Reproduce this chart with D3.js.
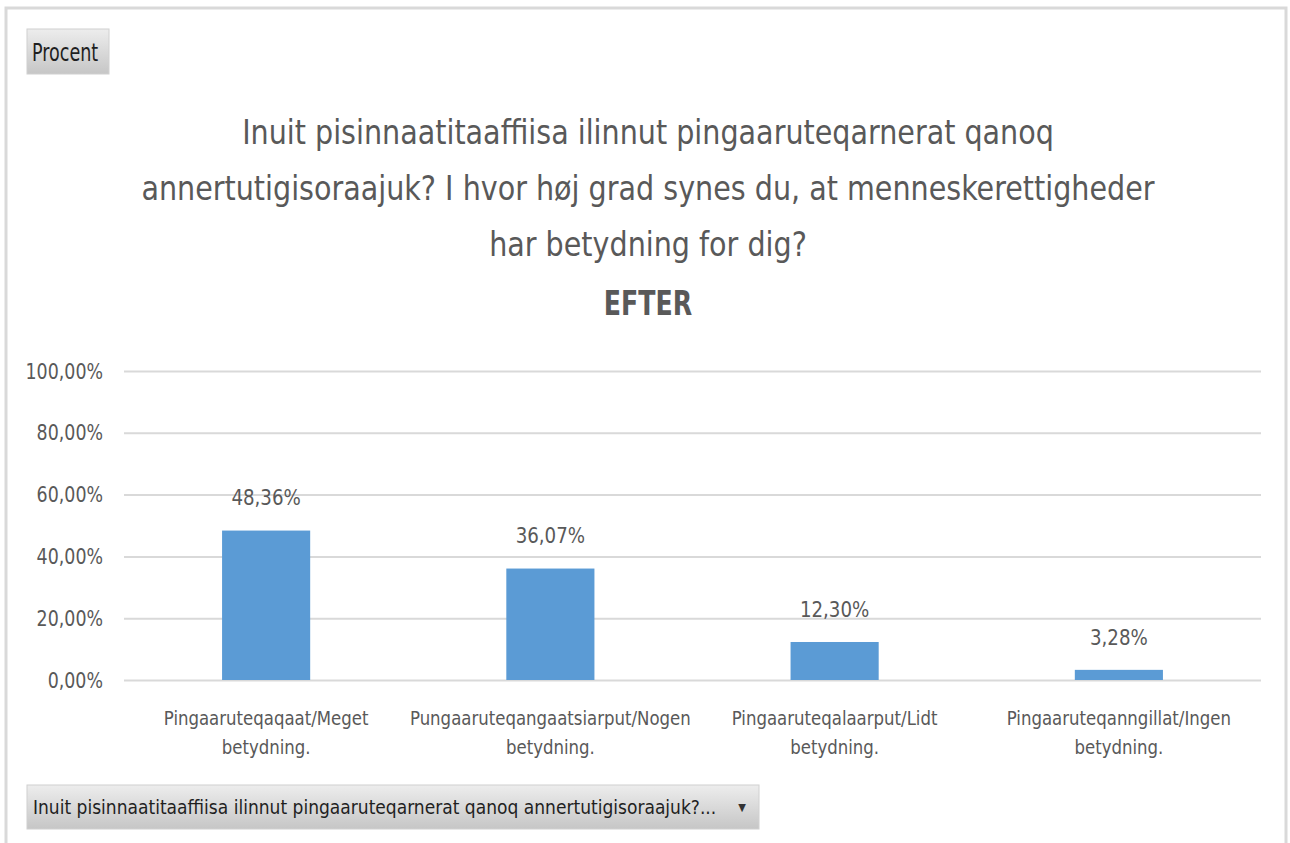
<!DOCTYPE html>
<html lang="da">
<head>
  <meta charset="utf-8">
  <title>EFTER</title>
  <script src="https://d3js.org/d3.v7.min.js"></script>
  <style>
    body { margin: 0; background: #fff; }
    svg { display: block; }
    text { font-family: "DejaVu Sans Condensed", "DejaVu Sans", sans-serif; fill: #595959; }
    .grid line { stroke: #d9d9d9; stroke-width: 2; }
    .bar { fill: #5b9bd5; }
  </style>
</head>
<body>
<script>
  // data
  var categories = [
    "Pingaaruteqaqaat/Meget betydning.",
    "Pungaaruteqangaatsiarput/Nogen betydning.",
    "Pingaaruteqalaarput/Lidt betydning.",
    "Pingaaruteqanngillat/Ingen betydning."
  ];
  var values = [0.4836, 0.3607, 0.1230, 0.0328];
  var yTicks = [0, 0.2, 0.4, 0.6, 0.8, 1.0];
  var titleLines = [
    "Inuit pisinnaatitaaffiisa ilinnut pingaaruteqarnerat  qanoq",
    "annertutigisoraajuk? I hvor høj grad synes du, at menneskerettigheder",
    "har betydning for dig?"
  ];
  var subtitle = "EFTER";
  var filterLabel = "Inuit pisinnaatitaaffiisa ilinnut pingaaruteqarnerat qanoq annertutigisoraajuk?...";

  var W = 1290, H = 843;
  var plot = { left: 124, right: 1261, top: 371, bottom: 680 };

  var da = d3.formatLocale({ decimal: ",", thousands: ".", grouping: [3], currency: ["", " kr."] });
  var pct = da.format(".2%");

  // squeeze text horizontally, the original uses a narrow font
  function condense(sel, f) {
    sel.each(function () {
      var w = this.getComputedTextLength();
      d3.select(this).attr("textLength", w * f).attr("lengthAdjust", "spacingAndGlyphs");
    });
  }

  var svg = d3.select("body").append("svg")
    .attr("width", W)
    .attr("height", H);

  // outer frame
  svg.append("rect")
    .attr("x", 6).attr("y", 8)
    .attr("width", 1280).attr("height", 850)
    .attr("fill", "#fff")
    .attr("stroke", "#d9d9d9")
    .attr("stroke-width", 3);

  var defs = svg.append("defs");
  var grad = defs.append("linearGradient")
    .attr("id", "btn").attr("x1", 0).attr("y1", 0).attr("x2", 0).attr("y2", 1);
  grad.append("stop").attr("offset", "0%").attr("stop-color", "#ededed");
  grad.append("stop").attr("offset", "100%").attr("stop-color", "#c6c6c6");

  // "Procent" field button
  svg.append("rect")
    .attr("x", 27).attr("y", 29).attr("width", 82).attr("height", 45)
    .attr("fill", "url(#btn)").attr("stroke", "#d0d0d0");
  svg.append("text")
    .attr("x", 32).attr("y", 52)
    .attr("dy", "0.35em")
    .attr("font-size", 25)
    .style("fill", "#1f1f1f")
    .text("Procent")
    .call(condense, 0.78);

  // title
  var title = svg.append("g").attr("text-anchor", "middle");
  title.selectAll("text.t")
    .data(titleLines)
    .enter().append("text")
    .attr("class", "t")
    .attr("x", 648)
    .attr("y", function (d, i) { return 132 + i * 56; })
    .attr("dy", "0.35em")
    .attr("font-size", 33)
    .text(function (d) { return d; })
    .call(condense, 0.963);
  title.append("text")
    .attr("x", 648).attr("y", 303).attr("dy", "0.35em")
    .attr("font-size", 33).attr("font-weight", "bold")
    .text(subtitle)
    .call(condense, 0.85);

  var x = d3.scaleBand()
    .domain(categories)
    .range([plot.left, plot.right])
    .paddingInner(0.69)
    .paddingOuter(0.345);

  var y = d3.scaleLinear()
    .domain([0, 1])
    .range([plot.bottom, plot.top]);

  // y axis + gridlines
  var yAxis = svg.append("g")
    .attr("class", "grid")
    .attr("transform", "translate(" + plot.left + ",0)")
    .call(d3.axisLeft(y)
      .tickValues(yTicks)
      .tickFormat(pct)
      .tickSize(-(plot.right - plot.left))
      .tickPadding(21));
  yAxis.select(".domain").remove();
  yAxis.selectAll("text")
    .attr("font-size", 22)
    .style("fill", "#595959")
    .call(condense, 0.88);

  // bars
  svg.selectAll("rect.bar")
    .data(values)
    .enter().append("rect")
    .attr("class", "bar")
    .attr("x", function (d, i) { return x(categories[i]); })
    .attr("y", function (d) { return y(d); })
    .attr("width", x.bandwidth())
    .attr("height", function (d) { return y(0) - y(d); });

  // value labels
  svg.selectAll("text.val")
    .data(values)
    .enter().append("text")
    .attr("class", "val")
    .attr("x", function (d, i) { return x(categories[i]) + x.bandwidth() / 2; })
    .attr("y", function (d) { return y(d) - 33; })
    .attr("dy", "0.35em")
    .attr("text-anchor", "middle")
    .attr("font-size", 22)
    .text(function (d) { return pct(d); })
    .call(condense, 0.92);

  // category labels, split before the last word
  var catLines = [];
  categories.forEach(function (c) {
    var k = c.lastIndexOf(" ");
    catLines.push({ cat: c, line: 0, text: c.slice(0, k) });
    catLines.push({ cat: c, line: 1, text: c.slice(k + 1) });
  });
  svg.selectAll("text.cat")
    .data(catLines)
    .enter().append("text")
    .attr("class", "cat")
    .attr("text-anchor", "middle")
    .attr("font-size", 20)
    .attr("x", function (d) { return x(d.cat) + x.bandwidth() / 2; })
    .attr("y", function (d) { return 718 + d.line * 29; })
    .attr("dy", "0.35em")
    .text(function (d) { return d.text; })
    .call(condense, 0.92);

  // filter dropdown
  svg.append("rect")
    .attr("x", 27).attr("y", 785).attr("width", 732).attr("height", 44)
    .attr("fill", "url(#btn)").attr("stroke", "#d0d0d0");
  svg.append("text")
    .attr("x", 33).attr("y", 807).attr("dy", "0.35em")
    .attr("font-size", 19)
    .style("fill", "#1f1f1f")
    .text(filterLabel)
    .call(condense, 1.0);
  svg.append("text")
    .attr("x", 742).attr("y", 807).attr("dy", "0.35em")
    .attr("text-anchor", "middle")
    .attr("font-size", 11)
    .style("fill", "#333")
    .text("▼");
</script>
</body>
</html>
